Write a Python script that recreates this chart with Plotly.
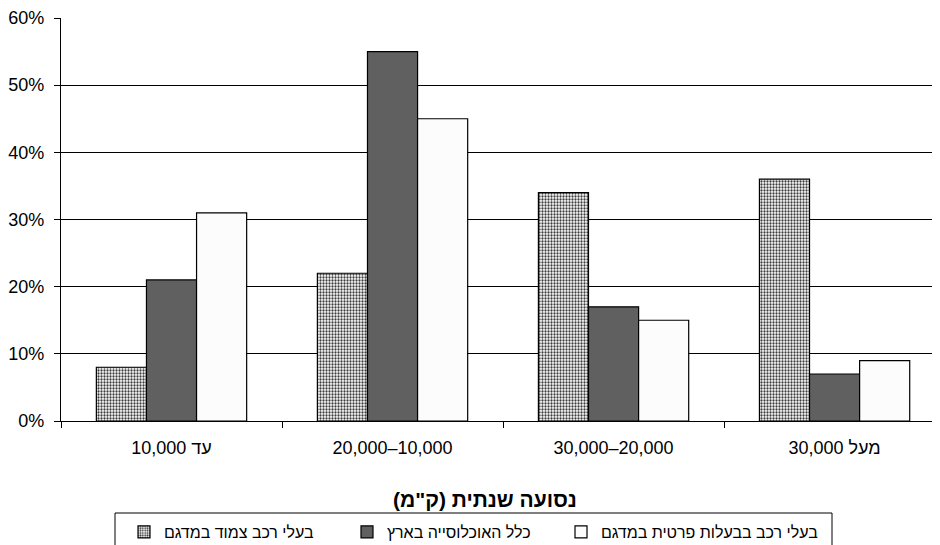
import plotly.graph_objects as go

categories = ["10,000 עד", "20,000–10,000", "30,000–20,000", "30,000 מעל"]
series_names = ["בעלי רכב צמוד במדגם", "כלל האוכלוסייה בארץ", "בעלי רכב בבעלות פרטית במדגם"]
company_car = [8, 22, 34, 36]
population = [21, 55, 17, 7]
private_car = [31, 45, 15, 9]
y_ticks = [0, 10, 20, 30, 40, 50, 60]
y_tick_labels = ["0%", "10%", "20%", "30%", "40%", "50%", "60%"]
x_title = "נסועה שנתית (ק\"מ)"

FONT = "Liberation Sans, Arial, sans-serif"
# the page body adds an 8px offset, so the figure is laid out in page pixels minus 8
OFF = 8
W, H = 940 - OFF, 545 - OFF
L, R, T = 61 - OFF, 0, 18 - OFF
B = H - (421 - OFF)
PW, PH = W - L - R, H - T - B

def px_x(px):
    return (px - OFF - L) / PW

def px_y(py):
    return (H - B - (py - OFF)) / PH

def cx(px):
    return (px - OFF) / W

def cy(py):
    return (H - (py - OFF)) / H

fig = go.Figure()
fig.add_bar(
    x=categories, y=company_car, name=series_names[0], legend="legend",
    marker=dict(color="white", line=dict(color="black", width=1.2),
                pattern=dict(shape=".", size=3, solidity=0.45, fgcolor="#3c3c3c",
                             fgopacity=1, fillmode="overlay")),
)
fig.add_bar(
    x=categories, y=population, name=series_names[1], legend="legend2",
    marker=dict(color="#606060", line=dict(color="black", width=1.2)),
)
fig.add_bar(
    x=categories, y=private_car, name=series_names[2], legend="legend3",
    marker=dict(color="#fcfcfc", line=dict(color="black", width=1.2)),
)

legend_common = dict(
    orientation="h", xanchor="left", yanchor="top",
    xref="container", yref="container",
    font=dict(family=FONT, size=16, color="black"),
    bgcolor="rgba(0,0,0,0)", borderwidth=0,
)
# page x of each legend symbol centre (symbol sits 20px right of legend left)
legend_symbol_px = [144, 367, 581]
legend_top_px = 515

fig.update_layout(
    width=W, height=H,
    margin=dict(l=L, r=R, t=T, b=B, pad=0, autoexpand=False),
    paper_bgcolor="white", plot_bgcolor="white",
    font=dict(family=FONT, size=18, color="black"),
    barmode="group", bargap=0.32, bargroupgap=0,
    showlegend=True,
    legend=dict(legend_common, x=cx(legend_symbol_px[0] - 20), y=cy(legend_top_px)),
    legend2=dict(legend_common, x=cx(legend_symbol_px[1] - 20), y=cy(legend_top_px)),
    legend3=dict(legend_common, x=cx(legend_symbol_px[2] - 20), y=cy(legend_top_px)),
)
fig.update_xaxes(
    type="category", range=[-0.5, 3.477],
    showgrid=False, showline=True, linecolor="black", linewidth=1,
    ticks="outside", tickson="boundaries", ticklen=6, tickcolor="black", tickwidth=1,
    tickfont=dict(family=FONT, size=18), ticklabelstandoff=10,
)
fig.update_yaxes(
    range=[0, 60], tickvals=y_ticks, ticktext=y_tick_labels,
    showgrid=True, gridcolor="black", gridwidth=1,
    showline=True, linecolor="black", linewidth=1.3,
    ticks="outside", ticklen=6, tickcolor="black", tickwidth=1,
    tickfont=dict(family=FONT, size=18), ticklabelstandoff=6,
    zeroline=False,
)
fig.add_annotation(
    text="<b>\u202B" + x_title + "\u202C</b>", xref="paper", yref="paper",
    x=px_x(485), y=px_y(499), xanchor="center", yanchor="middle",
    showarrow=False, font=dict(family=FONT, size=21, color="black"),
)
fig.add_shape(
    type="rect", xref="paper", yref="paper",
    x0=px_x(115), x1=px_x(832), y0=px_y(513), y1=px_y(570),
    line=dict(color="black", width=1), fillcolor="rgba(0,0,0,0)",
)
fig.write_html("out.html")
